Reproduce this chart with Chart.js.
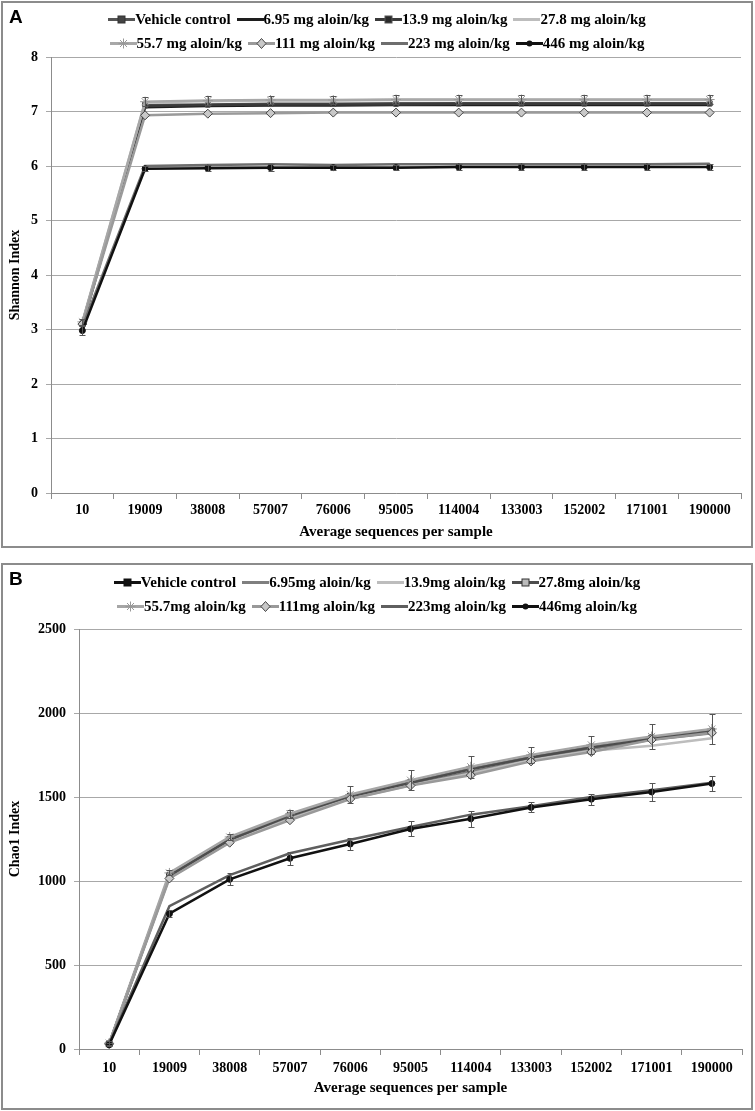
<!DOCTYPE html>
<html lang="en">
<head>
<meta charset="UTF-8" />
<title>Shannon and Chao1 rarefaction</title>
<script src="https://cdn.jsdelivr.net/npm/chart.js"></script>
<style>
  body { margin: 0; background: #fff; }
  .panel { position: absolute; left: 1px; width: 752px; height: 547px; box-sizing: border-box; border: 2px solid #8c8c8c; background: #fff; }
  #panelA { top: 1px; }
  #panelB { top: 563px; }
  canvas { position: absolute; left: 0; top: 0; }
  .letter { position: absolute; left: 6px; top: 3px; font: bold 19px 'Liberation Sans', Arial, sans-serif; z-index: 2; }
  .legend { position: absolute; left: 0; width: 100%; z-index: 2; }
  .legend .row { display: flex; justify-content: center; align-items: center; height: 24px; }
  .legend .item { display: flex; align-items: center; margin: 0 3px; white-space: nowrap; font: bold 15px 'Liberation Serif', 'Times New Roman', serif; color: #000; }
</style>
</head>
<body>

<div class="panel" id="panelA">
  <div class="letter">A</div>
  <div class="legend" id="legendA" style="top:4px"></div>
  <canvas id="chartA" width="748" height="543"></canvas>
</div>

<div class="panel" id="panelB">
  <div class="letter">B</div>
  <div class="legend" id="legendB" style="top:5px"></div>
  <canvas id="chartB" width="748" height="543"></canvas>
</div>

<script>
// categories
const depths = ['10', '19009', '38008', '57007', '76006', '95005', '114004', '133003', '152002', '171001', '190000'];

const namesA = ['Vehicle control', '6.95 mg aloin/kg', '13.9 mg aloin/kg', '27.8 mg aloin/kg',
                '55.7 mg aloin/kg', '111 mg aloin/kg', '223 mg aloin/kg', '446 mg aloin/kg'];
const namesB = ['Vehicle control', '6.95mg aloin/kg', '13.9mg aloin/kg', '27.8mg aloin/kg',
                '55.7mg aloin/kg', '111mg aloin/kg', '223mg aloin/kg', '446mg aloin/kg'];

// Panel A - Shannon index
const shannonVehicle = [3.10, 7.12, 7.13, 7.14, 7.14, 7.15, 7.15, 7.15, 7.15, 7.15, 7.15];
const shannon695     = [3.08, 7.08, 7.10, 7.11, 7.11, 7.12, 7.12, 7.12, 7.12, 7.12, 7.12];
const shannon139     = [3.12, 7.10, 7.12, 7.13, 7.13, 7.13, 7.14, 7.14, 7.14, 7.14, 7.14];
const shannon278     = [3.12, 7.17, 7.19, 7.20, 7.20, 7.21, 7.21, 7.21, 7.21, 7.21, 7.21];
const shannon557     = [3.14, 7.18, 7.20, 7.21, 7.21, 7.22, 7.22, 7.22, 7.22, 7.22, 7.22];
const shannon111     = [3.10, 6.93, 6.96, 6.97, 6.98, 6.98, 6.98, 6.98, 6.98, 6.98, 6.98];
const shannon223     = [3.05, 6.00, 6.02, 6.03, 6.02, 6.03, 6.03, 6.03, 6.03, 6.03, 6.04];
const shannon446     = [2.98, 5.95, 5.96, 5.97, 5.97, 5.97, 5.98, 5.98, 5.98, 5.98, 5.98];
const shannonErr557  = [0.05, 0.08, 0.08, 0.08, 0.08, 0.08, 0.08, 0.08, 0.08, 0.08, 0.08];
const shannonErr446  = [0.08, 0.05, 0.06, 0.06, 0.05, 0.05, 0.05, 0.05, 0.05, 0.05, 0.05];

// Panel B - Chao1 index
const chaoVehicle = [30, 1035, 1250, 1390, 1505, 1590, 1670, 1740, 1800, 1855, 1895];
const chao695     = [30, 1025, 1235, 1375, 1495, 1575, 1650, 1725, 1785, 1840, 1880];
const chao139     = [30, 1020, 1232, 1370, 1490, 1570, 1640, 1720, 1775, 1805, 1850];
const chao278     = [30, 1030, 1245, 1390, 1505, 1585, 1665, 1735, 1795, 1850, 1890];
const chao557     = [35, 1048, 1262, 1400, 1515, 1600, 1680, 1750, 1810, 1860, 1905];
const chao111     = [30, 1015, 1228, 1362, 1488, 1568, 1630, 1712, 1768, 1840, 1882];
const chao223     = [30, 850, 1035, 1165, 1245, 1322, 1395, 1445, 1500, 1540, 1585];
const chao446     = [25, 805, 1010, 1135, 1220, 1310, 1370, 1438, 1487, 1530, 1580];
const chaoErr557  = [10, 15, 20, 25, 50, 60, 65, 45, 55, 75, 90];
const chaoErr446  = [10, 20, 36, 40, 38, 45, 48, 30, 33, 53, 45];

const stylesA = [
  { color: '#555555', point: 'rect', radius: 3.5, fill: '#444444', edge: '#333333' },
  { color: '#1e1e1e', point: null },
  { color: '#3a3a3a', point: 'rect', radius: 3, fill: '#2a2a2a', edge: '#555555' },
  { color: '#bdbdbd', point: null },
  { color: '#a8a8a8', point: 'star', radius: 5, fill: '#999999', edge: '#999999' },
  { color: '#9a9a9a', point: 'rectRot', radius: 4.5, fill: '#c8c8c8', edge: '#444444' },
  { color: '#6e6e6e', point: null },
  { color: '#111111', point: 'circle', radius: 3, fill: '#111111', edge: '#111111' }
];
const stylesB = [
  { color: '#111111', point: 'rect', radius: 3.5, fill: '#111111', edge: '#111111' },
  { color: '#7f7f7f', point: null },
  { color: '#bdbdbd', point: null },
  { color: '#4d4d4d', point: 'rect', radius: 4, fill: '#bbbbbb', edge: '#333333' },
  { color: '#a6a6a6', point: 'star', radius: 5, fill: '#999999', edge: '#999999' },
  { color: '#999999', point: 'rectRot', radius: 4.5, fill: '#c8c8c8', edge: '#444444' },
  { color: '#5f5f5f', point: null },
  { color: '#111111', point: 'circle', radius: 3, fill: '#111111', edge: '#111111' }
];

function legendIcon(st) {
  let m = '';
  if (st.point === 'rect') m = `<rect x="10" y="3" width="7" height="7" fill="${st.fill}" stroke="${st.edge}" stroke-width="1"/>`;
  if (st.point === 'rectRot') m = `<polygon points="13.5,1.5 18,6.5 13.5,11.5 9,6.5" fill="${st.fill}" stroke="${st.edge}" stroke-width="1"/>`;
  if (st.point === 'circle') m = `<circle cx="13.5" cy="6.5" r="3" fill="${st.fill}"/>`;
  if (st.point === 'star') m = `<path d="M13.5 1.5V11.5M8.5 6.5H18.5M10 3L17 10M17 3L10 10" stroke="${st.edge}" stroke-width="1"/>`;
  return `<svg width="27" height="13" viewBox="0 0 27 13"><line x1="0" y1="6.5" x2="27" y2="6.5" stroke="${st.color}" stroke-width="3"/>${m}</svg>`;
}

function buildLegend(id, names, styles) {
  const el = document.getElementById(id);
  let row;
  names.forEach((name, i) => {
    if (i % 4 === 0) {
      row = document.createElement('div');
      row.className = 'row';
      el.appendChild(row);
    }
    const item = document.createElement('span');
    item.className = 'item';
    item.innerHTML = legendIcon(styles[i]) + '<span>' + name + '</span>';
    row.appendChild(item);
  });
}

function makeDatasets(names, values, styles, errors) {
  return names.map((name, i) => {
    const st = styles[i];
    return {
      label: name,
      data: values[i],
      errors: errors[i],
      borderColor: st.color,
      borderWidth: 2.5,
      pointStyle: st.point || 'circle',
      pointRadius: st.point ? st.radius : 0,
      pointBackgroundColor: st.fill,
      pointBorderColor: st.edge,
      pointBorderWidth: 1,
      tension: 0,
      order: names.length - i
    };
  });
}

// simple error bar plugin, drawn through the y scale
const errorBars = {
  id: 'errorBars',
  afterDatasetsDraw(chart) {
    const ctx = chart.ctx;
    const y = chart.scales.y;
    chart.data.datasets.forEach((ds, i) => {
      if (!ds.errors) return;
      const meta = chart.getDatasetMeta(i);
      ctx.save();
      ctx.strokeStyle = '#555555';
      ctx.lineWidth = 1;
      meta.data.forEach((pt, j) => {
        const v = ds.data[j], e = ds.errors[j];
        const y1 = Math.round(y.getPixelForValue(v + e)) + 0.5;
        const y2 = Math.round(y.getPixelForValue(v - e)) + 0.5;
        const x = Math.round(pt.x) + 0.5;
        ctx.beginPath();
        ctx.moveTo(x, y1); ctx.lineTo(x, y2);
        ctx.moveTo(x - 3, y1); ctx.lineTo(x + 3, y1);
        ctx.moveTo(x - 3, y2); ctx.lineTo(x + 3, y2);
        ctx.stroke();
      });
      ctx.restore();
    });
  }
};

const serif = "'Liberation Serif', 'Times New Roman', serif";

function makeOptions(cfg) {
  return {
    responsive: false,
    animation: false,
    devicePixelRatio: 1,
    layout: { padding: { top: cfg.padTop, right: cfg.padRight, left: 0, bottom: 0 } },
    plugins: { legend: { display: false }, tooltip: { enabled: false } },
    scales: {
      x: {
        offset: true,
        afterFit(scale) { scale.height = cfg.xHeight; },
        grid: { drawOnChartArea: false, drawTicks: true, tickLength: 6, offset: true, color: '#8c8c8c' },
        border: { color: '#8c8c8c' },
        ticks: { color: '#000', padding: cfg.xTickPad, maxRotation: 0, autoSkip: false,
                 font: { family: serif, size: 14, weight: 'bold' } },
        title: { display: true, text: 'Average sequences per sample', color: '#000',
                 padding: { top: 2, bottom: cfg.xTitlePad }, font: { family: serif, size: 15, weight: 'bold' } }
      },
      y: {
        min: 0,
        max: cfg.yMax,
        afterFit(scale) { scale.width = cfg.yWidth; },
        grid: { color: '#a8a8a8', tickLength: 5, drawTicks: true },
        border: { display: true, color: '#8c8c8c' },
        ticks: { stepSize: cfg.yStep, color: '#000', padding: 8,
                 callback: (v) => String(v),
                 font: { family: serif, size: 14, weight: 'bold' } },
        title: { display: true, text: cfg.yTitle, color: '#000',
                 padding: { top: 4, bottom: 0 }, font: { family: serif, size: 14, weight: 'bold' } }
      }
    }
  };
}

buildLegend('legendA', namesA, stylesA);
buildLegend('legendB', namesB, stylesB);

const chartA = new Chart(document.getElementById('chartA').getContext('2d'), {
  type: 'line',
  data: {
    labels: depths,
    datasets: makeDatasets(namesA,
      [shannonVehicle, shannon695, shannon139, shannon278, shannon557, shannon111, shannon223, shannon446],
      stylesA,
      [null, null, null, null, shannonErr557, null, null, shannonErr446])
  },
  options: makeOptions({ padTop: 54, padRight: 10, xHeight: 53, yWidth: 48, yMax: 8, yStep: 1,
                         yTitle: 'Shannon Index', xTickPad: 3, xTitlePad: 5 }),
  plugins: [errorBars]
});

const chartB = new Chart(document.getElementById('chartB').getContext('2d'), {
  type: 'line',
  data: {
    labels: depths,
    datasets: makeDatasets(namesB,
      [chaoVehicle, chao695, chao139, chao278, chao557, chao111, chao223, chao446],
      stylesB,
      [null, null, null, null, chaoErr557, null, null, chaoErr446])
  },
  options: makeOptions({ padTop: 64, padRight: 9, xHeight: 59, yWidth: 76, yMax: 2500, yStep: 500,
                         yTitle: 'Chao1 Index', xTickPad: 5, xTitlePad: 11 }),
  plugins: [errorBars]
});
</script>
</body>
</html>
